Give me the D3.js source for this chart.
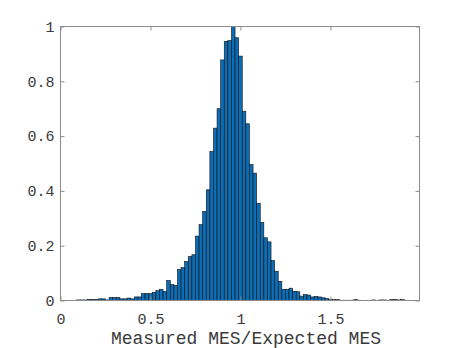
<!DOCTYPE html>
<head>
    <meta charset="utf-8">
    <script src="https://d3js.org/d3.v7.min.js"></script>
    <style>
        body { margin: 0; background: #fff; }
    </style>
</head>
<body>
    <svg></svg>
    <script>
        // normalised histogram, bins 0.02 wide (centres listed)
        var binCenters = [0.10, 0.12, 0.14, 0.16, 0.18, 0.20, 0.22, 0.24, 0.26, 0.28,
                          0.30, 0.32, 0.34, 0.36, 0.38, 0.40, 0.42, 0.44, 0.46, 0.48,
                          0.50, 0.52, 0.54, 0.56, 0.58, 0.60, 0.62, 0.64, 0.66, 0.68,
                          0.70, 0.72, 0.74, 0.76, 0.78, 0.80, 0.82, 0.84, 0.86, 0.88,
                          0.90, 0.92, 0.94, 0.96, 0.98, 1.00, 1.02, 1.04, 1.06, 1.08,
                          1.10, 1.12, 1.14, 1.16, 1.18, 1.20, 1.22, 1.24, 1.26, 1.28,
                          1.30, 1.32, 1.34, 1.36, 1.38, 1.40, 1.42, 1.44, 1.46, 1.48,
                          1.50, 1.52, 1.54, 1.56, 1.58, 1.60, 1.62, 1.64, 1.66, 1.68,
                          1.70, 1.72, 1.74, 1.76, 1.78, 1.80, 1.82, 1.84, 1.86, 1.88,
                          1.90];
        var binValues = [0.002, 0.002, 0.002, 0.004, 0.004, 0.004, 0.006, 0.006, 0.002, 0.011,
                         0.011, 0.011, 0.006, 0.006, 0.009, 0.006, 0.013, 0.013, 0.025, 0.025,
                         0.025, 0.030, 0.036, 0.041, 0.033, 0.073, 0.058, 0.055, 0.113, 0.120,
                         0.142, 0.160, 0.167, 0.235, 0.277, 0.325, 0.404, 0.544, 0.629, 0.700,
                         0.878, 0.946, 0.949, 1.000, 0.959, 0.892, 0.691, 0.645, 0.496, 0.465,
                         0.355, 0.285, 0.229, 0.214, 0.146, 0.107, 0.070, 0.041, 0.041, 0.045,
                         0.034, 0.032, 0.016, 0.022, 0.020, 0.013, 0.015, 0.013, 0.010, 0.007,
                         0.003, 0.003, 0.003, 0.001, 0.001, 0.001, 0.001, 0.003, 0.001, 0.000,
                         0.000, 0.000, 0.002, 0.000, 0.002, 0.002, 0.000, 0.003, 0.003, 0.002,
                         0.003];
        var binWidth = 0.02;
        var xTicks = [0, 0.5, 1, 1.5];
        var yTicks = [0, 0.2, 0.4, 0.6, 0.8, 1];
        var xLabel = "Measured MES/Expected MES";

        var W = 463, H = 348;
        var m = { left: 60.5, right: 419.5, top: 26.5, bottom: 300.5 };

        var svg = d3.select("svg")
            .attr("width", W)
            .attr("height", H);

        var x = d3.scaleLinear().domain([0, 1.995]).range([m.left, m.right]);
        var y = d3.scaleLinear().domain([0, 1]).range([m.bottom, m.top]);

        // bars
        svg.append("g")
            .selectAll("rect")
            .data(binCenters.map(function (c, i) { return { c: c, v: binValues[i] }; }))
            .enter().append("rect")
            .attr("x", function (d) { return x(d.c - binWidth / 2); })
            .attr("width", function (d) { return x(d.c + binWidth / 2) - x(d.c - binWidth / 2); })
            .attr("y", function (d) { return y(d.v); })
            .attr("height", function (d) { return y(0) - y(d.v); })
            .attr("fill", "#0a6db5")
            .attr("stroke", "#111")
            .attr("stroke-width", 0.6);

        var axisColor = "#8c8c8c";
        var textColor = "#3a3a3a";
        var font = "'Liberation Mono', 'DejaVu Sans Mono', monospace";

        // box
        svg.append("rect")
            .attr("x", m.left).attr("y", m.top)
            .attr("width", m.right - m.left).attr("height", m.bottom - m.top)
            .attr("fill", "none")
            .attr("stroke", axisColor)
            .attr("stroke-width", 1);

        // axes, ticks pointing inward
        var gx = svg.append("g")
            .attr("transform", "translate(0," + m.bottom + ")")
            .call(d3.axisBottom(x).tickValues(xTicks).tickSizeInner(-4).tickSizeOuter(0).tickPadding(13)
                .tickFormat(d3.format("")));
        var gxTop = svg.append("g")
            .attr("transform", "translate(0," + m.top + ")")
            .call(d3.axisTop(x).tickValues(xTicks).tickSizeInner(-4).tickSizeOuter(0).tickFormat(""));
        var gy = svg.append("g")
            .attr("transform", "translate(" + m.left + ",0)")
            .call(d3.axisLeft(y).tickValues(yTicks).tickSizeInner(-4).tickSizeOuter(0).tickPadding(6)
                .tickFormat(d3.format("")));
        var gyRight = svg.append("g")
            .attr("transform", "translate(" + m.right + ",0)")
            .call(d3.axisRight(y).tickValues(yTicks).tickSizeInner(-4).tickSizeOuter(0).tickFormat(""));

        [gx, gxTop, gy, gyRight].forEach(function (g) {
            g.select(".domain").remove();
            g.selectAll(".tick line").attr("stroke", axisColor);
            g.selectAll("text")
                .attr("fill", textColor)
                .style("font-family", font)
                .style("font-size", "15px");
        });

        svg.append("text")
            .attr("x", (m.left + m.right) / 2 + 6)
            .attr("y", 344)
            .attr("text-anchor", "middle")
            .attr("fill", textColor)
            .style("font-family", font)
            .style("font-size", "18px")
            .text(xLabel);
    </script>
</body>
